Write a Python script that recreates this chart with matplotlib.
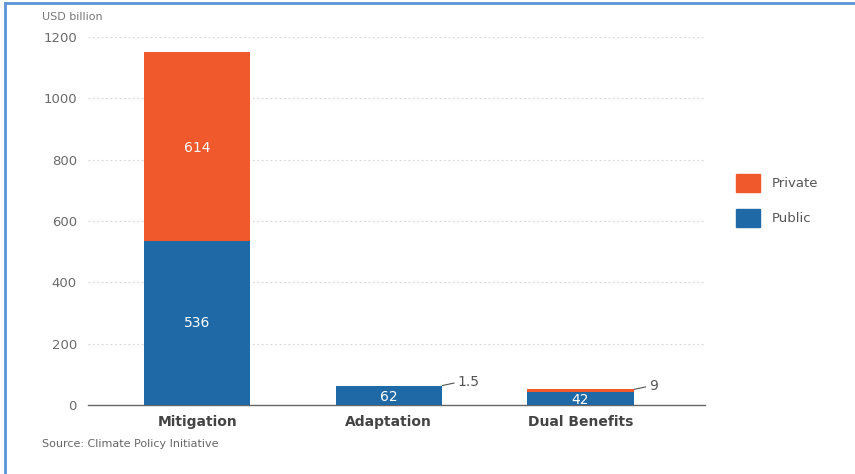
import matplotlib.pyplot as plt
import numpy as np
from matplotlib.lines import Line2D

categories = ["Mitigation", "Adaptation", "Dual Benefits"]
public = [536, 62, 42]
private = [614, 1.5, 9]
yticks = [0, 200, 400, 600, 800, 1000, 1200]

blue = "#1f69a6"
orange = "#f0592b"
grey = "#555555"

fig = plt.figure(figsize=(8.55, 4.74), dpi=100)
ax = fig.add_axes([88/855, 1-405/474, (705-88)/855, (405-37)/474])

x = np.arange(len(categories))
ax.bar(x, public, width=0.555, color=blue, label="Public", zorder=3)
ax.bar(x, private, width=0.555, bottom=public, color=orange, label="Private", zorder=3)

ax.set_xlim(-0.57, 2.65)
ax.set_ylim(0, 1200)
ax.set_yticks(yticks)
ax.set_yticklabels([str(t) for t in yticks], color="#6a6a6a", fontsize=9.5)
ax.tick_params(axis="y", length=0, pad=8)
ax.tick_params(axis="x", length=0, pad=7)
ax.set_xticks(x)
ax.set_xticklabels(categories, fontsize=10, fontweight="bold", color="#444444")
ax.grid(axis="y", linestyle=(0, (1.5, 2.5)), color="#d4d4d4", linewidth=0.8, zorder=0)
for s in ["top", "right", "left"]:
    ax.spines[s].set_visible(False)
ax.spines["bottom"].set_color("#666666")
ax.spines["bottom"].set_linewidth(1.0)

# value labels inside the bars
ax.text(0, public[0] + private[0] / 2 - 5, str(private[0]), ha="center", va="center",
        color="white", fontsize=10)
ax.text(0, public[0] / 2, str(public[0]), ha="center", va="center",
        color="white", fontsize=10)
for i in [1, 2]:
    ax.text(i, public[i] / 2 - 6, str(public[i]), ha="center", va="center",
            color="white", fontsize=10)

# small private values with leader lines
for i, lab in [(1, "1.5"), (2, "9")]:
    top = public[i] + private[i]
    ax.plot([i + 0.28, i + 0.34], [top, top + 8], color=grey, lw=0.8, clip_on=False)
    ax.text(i + 0.36, top + 10, lab, ha="left", va="center", color=grey, fontsize=10)

handles = [plt.Rectangle((0, 0), 1, 1, color=orange), plt.Rectangle((0, 0), 1, 1, color=blue)]
leg = fig.legend(handles, ["Private", "Public"], loc="upper left",
                 bbox_to_anchor=(724/855, 1-162/474), frameon=False,
                 handlelength=1.8, handleheight=1.7, labelspacing=1.3,
                 fontsize=9.5, handletextpad=0.9)
for t in leg.get_texts():
    t.set_color(grey)

fig.text(42/855, 1-17/474, "USD billion", fontsize=8, color="#777777", va="center")
fig.text(42/855, 1-444/474, "Source: Climate Policy Initiative", fontsize=8,
         color="#666666", va="center")

# blue frame around the image
fig.add_artist(Line2D([0.006, 1], [1-3/474, 1-3/474], color="#5b95d6", lw=2,
                      transform=fig.transFigure))
fig.add_artist(Line2D([5/855, 5/855], [0, 1-3/474], color="#5b95d6", lw=2,
                      transform=fig.transFigure))

fig.savefig("out.png", dpi=100)
